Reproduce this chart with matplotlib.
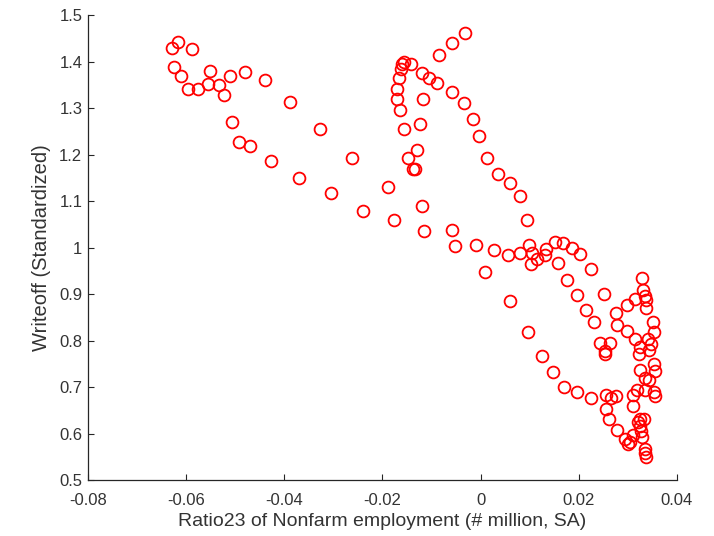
import numpy as np
import matplotlib
matplotlib.use('Agg')
import matplotlib.pyplot as plt
from matplotlib.ticker import FuncFormatter

# ratio23 of nonfarm employment vs standardized writeoff
ratio23 = [
    -0.0629, -0.0616, -0.0587, -0.0625, -0.0611, -0.0595, -0.0576, -0.0555, -0.0551, -0.0533,
    -0.0523, -0.0510, -0.0480, -0.0440, -0.0506, -0.0493, -0.0470, -0.0426, -0.0389, -0.0369,
    -0.0328, -0.0304, -0.0262, -0.0239, -0.0189, -0.0177, -0.0119, -0.0115, -0.0059, -0.0051,
    -0.0010, 0.0009, 0.0027, 0.0056, 0.0060, 0.0081, 0.0096, 0.0099, 0.0103, 0.0116,
    0.0105, 0.0132, 0.0134, 0.0152, 0.0169, 0.0157, 0.0186, 0.0203, 0.0226, 0.0177,
    0.0196, 0.0214, 0.0232, 0.0243, 0.0253, 0.0254, 0.0263, 0.0251, 0.0277, 0.0279,
    0.0298, 0.0298, 0.0314, 0.0328, 0.0330, 0.0335, 0.0338, 0.0338, 0.0351, 0.0354,
    0.0314, 0.0324, 0.0323, 0.0342, 0.0347, 0.0344, 0.0353, 0.0355, 0.0324, 0.0335,
    0.0344, 0.0318, 0.0335, 0.0353, 0.0356, 0.0311, 0.0311, 0.0256, 0.0275, 0.0266,
    0.0256, 0.0261, 0.0278, 0.0295, 0.0300, 0.0305, 0.0310, 0.0320, 0.0325, 0.0333,
    0.0325, 0.0327, 0.0329, 0.0336, 0.0335, 0.0338, 0.0226, 0.0197, 0.0171, 0.0148,
    0.0125, -0.0031, -0.0059, -0.0085, -0.0089, -0.0105, -0.0119, -0.0142, -0.0156, -0.0159,
    -0.0163, -0.0166, -0.0171, -0.0171, -0.0165, -0.0156, -0.0117, -0.0124, -0.0130, -0.0148,
    -0.0138, -0.0134, -0.0059, -0.0034, -0.0016, -0.0003, 0.0014, 0.0036, 0.0060, 0.0081,
    0.0094,
]
writeoff = [
    1.430, 1.441, 1.426, 1.389, 1.368, 1.342, 1.342, 1.351, 1.379, 1.349,
    1.328, 1.368, 1.378, 1.361, 1.271, 1.227, 1.218, 1.186, 1.314, 1.150,
    1.254, 1.117, 1.193, 1.078, 1.131, 1.060, 1.090, 1.036, 1.037, 1.004,
    1.006, 0.947, 0.995, 0.984, 0.886, 0.988, 0.819, 1.005, 0.965, 0.976,
    0.989, 0.985, 0.996, 1.013, 1.011, 0.968, 0.999, 0.987, 0.953, 0.931,
    0.899, 0.865, 0.840, 0.795, 0.778, 0.771, 0.795, 0.901, 0.859, 0.833,
    0.876, 0.820, 0.890, 0.935, 0.908, 0.897, 0.887, 0.870, 0.840, 0.819,
    0.804, 0.787, 0.772, 0.804, 0.793, 0.780, 0.749, 0.734, 0.738, 0.720,
    0.716, 0.693, 0.695, 0.690, 0.681, 0.683, 0.659, 0.683, 0.681, 0.676,
    0.653, 0.632, 0.609, 0.589, 0.579, 0.582, 0.598, 0.625, 0.632, 0.631,
    0.616, 0.605, 0.592, 0.568, 0.558, 0.549, 0.677, 0.690, 0.700, 0.733,
    0.767, 1.461, 1.440, 1.413, 1.354, 1.365, 1.376, 1.394, 1.400, 1.394,
    1.385, 1.365, 1.341, 1.320, 1.295, 1.256, 1.320, 1.266, 1.209, 1.193,
    1.170, 1.170, 1.334, 1.310, 1.277, 1.239, 1.192, 1.159, 1.138, 1.112,
    1.060,
]

x_ticks = [-0.08, -0.06, -0.04, -0.02, 0, 0.02, 0.04]
y_ticks = [0.5, 0.6, 0.7, 0.8, 0.9, 1.0, 1.1, 1.2, 1.3, 1.4, 1.5]

plt.rcParams['font.family'] = ['Liberation Sans', 'DejaVu Sans']
INK = '#333333'

fig = plt.figure(figsize=(7.14, 5.36), dpi=100)
ax = fig.add_axes([0.123, 0.104, 0.825, 0.868])

ax.plot(ratio23, writeoff, linestyle='none', marker='o', markersize=8.5,
        markerfacecolor='none', markeredgecolor='#ff0000', markeredgewidth=1.3)

ax.set_xlim(-0.08, 0.04)
ax.set_ylim(0.5, 1.5)
ax.set_xticks(x_ticks)
ax.set_yticks(y_ticks)
fmt = FuncFormatter(lambda v, pos: '%g' % round(v, 4))
ax.xaxis.set_major_formatter(fmt)
ax.yaxis.set_major_formatter(fmt)

for side in ['top', 'right']:
    ax.spines[side].set_visible(False)
for side in ['left', 'bottom']:
    ax.spines[side].set_color('#262626')
    ax.spines[side].set_linewidth(0.9)
ax.tick_params(direction='in', length=4, width=0.8, colors='#262626',
               labelcolor=INK, labelsize=12)
ax.tick_params(axis='x', pad=9)
ax.tick_params(axis='y', pad=4)

ax.set_xlabel('Ratio23 of Nonfarm employment (# million, SA)', fontsize=14,
              color=INK, labelpad=4)
ax.set_ylabel('Writeoff (Standardized)', fontsize=14.5, color=INK, labelpad=6)

fig.savefig('out.png', dpi=100)
